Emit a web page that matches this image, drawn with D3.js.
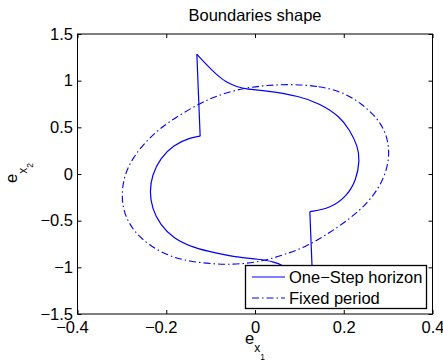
<!DOCTYPE html>
<html>
<head>
<meta charset="utf-8">
<script src="https://cdn.jsdelivr.net/npm/d3@7"></script>
<style>
  html, body { margin: 0; padding: 0; background: #fff; }
  svg { display: block; font-family: "Liberation Sans", Arial, Helvetica, sans-serif; }
</style>
</head>
<body>
<svg id="chart" width="443" height="362"></svg>
<script>
// ---- data ----
const title = "Boundaries shape";
const xTicks = [-0.4, -0.2, 0, 0.2, 0.4];
const xTickLabels = ["\u22120.4", "\u22120.2", "0", "0.2", "0.4"];
const yTicks = [-1.5, -1, -0.5, 0, 0.5, 1, 1.5];
const yTickLabels = ["\u22121.5", "\u22121", "\u22120.5", "0", "0.5", "1", "1.5"];
const seriesNames = ["One\u2212Step horizon", "Fixed period"];

// One-Step horizon: left arc (from upper corner, around the left, to the lower spike)
const horizonLeftArc = [
  [-0.1236, 0.405], [-0.146, 0.389], [-0.184, 0.311], [-0.2135, 0.168], [-0.232, -0.011],
  [-0.2375, -0.19], [-0.232, -0.368], [-0.2135, -0.546], [-0.184, -0.689], [-0.139, -0.79],
  [-0.086, -0.85], [-0.049, -0.886], [0.011, -0.914], [0.041, -0.938], [0.0636, -0.978],
  [0.086, -1.061], [0.1086, -1.168], [0.131, -1.283]
];
// One-Step horizon: right arc (from lower corner, around the right, to the upper spike)
const horizonRightArc = [
  [0.1236, -0.404], [0.169, -0.368], [0.206, -0.243], [0.2285, -0.064], [0.236, 0.15],
  [0.232, 0.293], [0.2135, 0.471], [0.191, 0.618], [0.146, 0.755], [0.101, 0.833],
  [0.026, 0.893], [-0.0187, 0.907], [-0.041, 0.935], [-0.0636, 0.978], [-0.086, 1.061],
  [-0.1086, 1.168], [-0.131, 1.283]
];
// Fixed period: closed dash-dot contour
const fixedPeriod = [
  [0.086, 0.964], [0.145, 0.94], [0.194, 0.886], [0.24, 0.758], [0.28, 0.579],
  [0.298, 0.40], [0.303, 0.222], [0.297, 0.043], [0.281, -0.136], [0.253, -0.314],
  [0.215, -0.475], [0.168, -0.63], [0.116, -0.779], [0.064, -0.868], [0.019, -0.932],
  [-0.034, -0.968], [-0.086, -0.968], [-0.145, -0.94], [-0.195, -0.88], [-0.24, -0.758],
  [-0.272, -0.62], [-0.292, -0.457], [-0.301, -0.279], [-0.297, -0.04], [-0.275, 0.185],
  [-0.236, 0.40], [-0.195, 0.56], [-0.124, 0.761], [-0.079, 0.85], [-0.026, 0.921],
  [0.026, 0.95]
];

// ---- layout ----
const svg = d3.select("#chart");
const L = 77.5, R = 432.5, T = 34, B = 314;
const x = d3.scaleLinear().domain([-0.4, 0.4]).range([L, R]);
const y = d3.scaleLinear().domain([-1.5, 1.5]).range([B, T]);
const blue = "#0000ff";
const fs = 16.5;

svg.append("rect").attr("width", 443).attr("height", 362).attr("fill", "#fff");

// curves
const plot = svg.append("g");
const smooth = d3.line().x(d => x(d[0])).y(d => y(d[1])).curve(d3.curveBasis);
const straight = d3.line().x(d => x(d[0])).y(d => y(d[1]));
const closedSmooth = d3.line().x(d => x(d[0])).y(d => y(d[1])).curve(d3.curveBasisClosed);

plot.append("path").attr("d", closedSmooth(fixedPeriod))
  .attr("fill", "none").attr("stroke", blue).attr("stroke-width", 1.1)
  .attr("stroke-dasharray", "7,3,1.5,3");

const solidStyle = p => p.attr("fill", "none").attr("stroke", blue).attr("stroke-width", 1.2)
  .attr("stroke-linejoin", "round");
plot.append("path").attr("d", smooth(horizonLeftArc)).call(solidStyle);
plot.append("path").attr("d", smooth(horizonRightArc)).call(solidStyle);
plot.append("path").attr("d", straight([horizonRightArc[horizonRightArc.length - 1], horizonLeftArc[0]])).call(solidStyle);
plot.append("path").attr("d", straight([horizonLeftArc[horizonLeftArc.length - 1], horizonRightArc[0]])).call(solidStyle);

// axes
const fmtX = (d, i) => xTickLabels[i];
const fmtY = (d, i) => yTickLabels[i];

const gx = svg.append("g").attr("transform", `translate(0,${B})`)
  .call(d3.axisBottom(x).tickValues(xTicks).tickFormat(fmtX).tickSizeInner(-4).tickSizeOuter(0).tickPadding(7.5));
gx.selectAll("text").attr("dx", (d, i) => xTickLabels[i].startsWith("\u2212") ? -5.5 : 0);

const gy = svg.append("g").attr("transform", `translate(${L},0)`)
  .call(d3.axisLeft(y).tickValues(yTicks).tickFormat(fmtY).tickSizeInner(-4).tickSizeOuter(0).tickPadding(4.5));

const gt = svg.append("g").attr("transform", `translate(0,${T})`)
  .call(d3.axisTop(x).tickValues(xTicks).tickFormat("").tickSizeInner(-4).tickSizeOuter(0));
const gr = svg.append("g").attr("transform", `translate(${R},0)`)
  .call(d3.axisRight(y).tickValues(yTicks).tickFormat("").tickSizeInner(-4).tickSizeOuter(0));

[gx, gy, gt, gr].forEach(g => {
  g.select(".domain").remove();
  g.selectAll("line").attr("stroke", "#000");
  g.selectAll("text").attr("fill", "#000").style("font-size", fs + "px")
    .style("font-family", '"Liberation Sans", Arial, sans-serif');
});

svg.append("rect").attr("x", L).attr("y", T).attr("width", R - L).attr("height", B - T)
  .attr("fill", "none").attr("stroke", "#000").attr("stroke-width", 1);

// title
svg.append("text").attr("x", (L + R) / 2).attr("y", 21).attr("text-anchor", "middle")
  .style("font-size", fs + "px").attr("fill", "#000").text(title);

// x label  e_{x_1}
const xl = svg.append("text").attr("x", 255).attr("y", 343.5).attr("text-anchor", "middle")
  .style("font-size", fs + "px").attr("fill", "#000");
xl.append("tspan").text("e");
xl.append("tspan").attr("dy", 8.5).style("font-size", "12px").text("x");
xl.append("tspan").attr("dy", 8).style("font-size", "8.5px").text("1");

// y label  e_{x_2}
const yl = svg.append("text").attr("transform", "translate(17,173) rotate(-90)").attr("text-anchor", "middle")
  .style("font-size", fs + "px").attr("fill", "#000");
yl.append("tspan").text("e");
yl.append("tspan").attr("dy", 10).style("font-size", "12px").text("x");
yl.append("tspan").attr("dy", 6).style("font-size", "8.5px").text("2");

// legend
const lg = svg.append("g");
lg.append("rect").attr("x", 245.5).attr("y", 265.5).attr("width", 181).attr("height", 43)
  .attr("fill", "#fff").attr("stroke", "#000").attr("stroke-width", 1.3);
const rows = [277, 298];
lg.append("line").attr("x1", 252).attr("x2", 285).attr("y1", rows[0]).attr("y2", rows[0])
  .attr("stroke", blue).attr("stroke-width", 1.2);
lg.append("line").attr("x1", 252).attr("x2", 285).attr("y1", rows[1]).attr("y2", rows[1])
  .attr("stroke", blue).attr("stroke-width", 1.1).attr("stroke-dasharray", "7,3,1.5,3");
seriesNames.forEach((n, i) => {
  lg.append("text").attr("x", 289).attr("y", rows[i] + 5.8).style("font-size", fs + "px")
    .attr("fill", "#000").text(n);
});
</script>
</body>
</html>
